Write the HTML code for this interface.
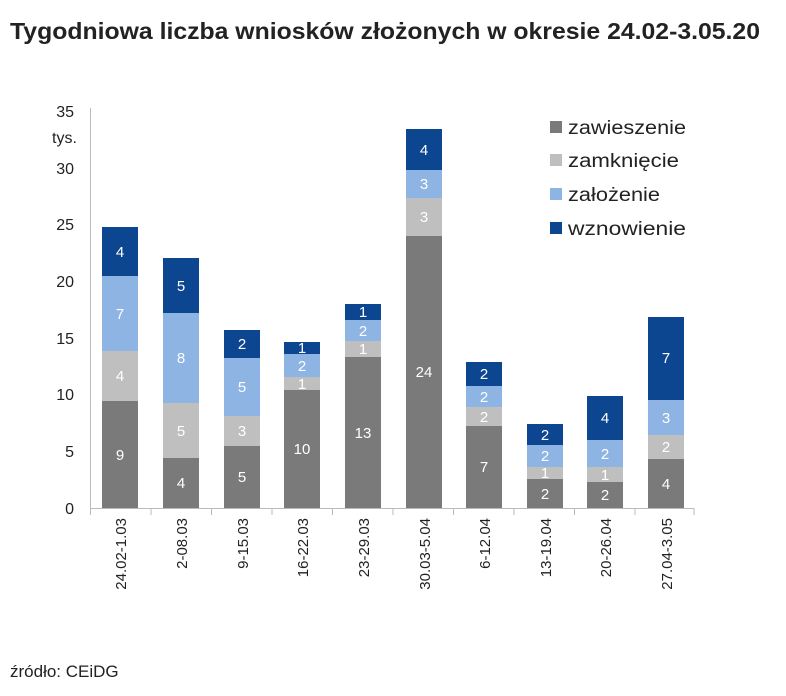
<!DOCTYPE html>
<html><head><meta charset="utf-8"><style>
body{margin:0;background:#fff;}
svg{display:block;font-family:"Liberation Sans",sans-serif;}
</style></head><body>
<svg width="786" height="696" viewBox="0 0 786 696" xmlns="http://www.w3.org/2000/svg">
<text x="10" y="39" font-size="23" font-weight="bold" fill="#222" textLength="750" lengthAdjust="spacingAndGlyphs">Tygodniowa liczba wniosków złożonych w okresie 24.02-3.05.20</text>
<g font-size="16" fill="#222" text-anchor="end">
<text x="74" y="514">0</text><text x="74" y="457">5</text><text x="74" y="400">10</text><text x="74" y="344">15</text><text x="74" y="287">20</text><text x="74" y="230">25</text><text x="74" y="174">30</text><text x="74" y="117">35</text>
</g>
<text x="52" y="143" font-size="16" fill="#222">tys.</text>
<line x1="90.5" y1="108" x2="90.5" y2="508" stroke="#bbb"/>
<line x1="90" y1="508.5" x2="694" y2="508.5" stroke="#bbb"/>
<g stroke="#bbb">
<line x1="90.5" y1="508" x2="90.5" y2="515"/><line x1="151" y1="508" x2="151" y2="515"/><line x1="211.5" y1="508" x2="211.5" y2="515"/><line x1="272" y1="508" x2="272" y2="515"/><line x1="332.5" y1="508" x2="332.5" y2="515"/><line x1="393" y1="508" x2="393" y2="515"/><line x1="453.5" y1="508" x2="453.5" y2="515"/><line x1="514" y1="508" x2="514" y2="515"/><line x1="574.5" y1="508" x2="574.5" y2="515"/><line x1="635" y1="508" x2="635" y2="515"/><line x1="694" y1="508" x2="694" y2="515"/>
</g>
<g>
<rect x="102" y="401" width="36" height="107" fill="#7a7a7a"/><rect x="102" y="351" width="36" height="50" fill="#bfbfbf"/><rect x="102" y="276" width="36" height="75" fill="#8db4e2"/><rect x="102" y="227" width="36" height="49" fill="#0c4590"/>
<rect x="163" y="458" width="36" height="50" fill="#7a7a7a"/><rect x="163" y="403" width="36" height="55" fill="#bfbfbf"/><rect x="163" y="313" width="36" height="90" fill="#8db4e2"/><rect x="163" y="258" width="36" height="55" fill="#0c4590"/>
<rect x="224" y="446" width="36" height="62" fill="#7a7a7a"/><rect x="224" y="416" width="36" height="30" fill="#bfbfbf"/><rect x="224" y="358" width="36" height="58" fill="#8db4e2"/><rect x="224" y="330" width="36" height="28" fill="#0c4590"/>
<rect x="284" y="390" width="36" height="118" fill="#7a7a7a"/><rect x="284" y="377" width="36" height="13" fill="#bfbfbf"/><rect x="284" y="354" width="36" height="23" fill="#8db4e2"/><rect x="284" y="342" width="36" height="12" fill="#0c4590"/>
<rect x="345" y="357" width="36" height="151" fill="#7a7a7a"/><rect x="345" y="341" width="36" height="16" fill="#bfbfbf"/><rect x="345" y="320" width="36" height="21" fill="#8db4e2"/><rect x="345" y="304" width="36" height="16" fill="#0c4590"/>
<rect x="406" y="236" width="36" height="272" fill="#7a7a7a"/><rect x="406" y="198" width="36" height="38" fill="#bfbfbf"/><rect x="406" y="170" width="36" height="28" fill="#8db4e2"/><rect x="406" y="129" width="36" height="41" fill="#0c4590"/>
<rect x="466" y="426" width="36" height="82" fill="#7a7a7a"/><rect x="466" y="407" width="36" height="19" fill="#bfbfbf"/><rect x="466" y="386" width="36" height="21" fill="#8db4e2"/><rect x="466" y="362" width="36" height="24" fill="#0c4590"/>
<rect x="527" y="479" width="36" height="29" fill="#7a7a7a"/><rect x="527" y="467" width="36" height="12" fill="#bfbfbf"/><rect x="527" y="445" width="36" height="22" fill="#8db4e2"/><rect x="527" y="424" width="36" height="21" fill="#0c4590"/>
<rect x="587" y="482" width="36" height="26" fill="#7a7a7a"/><rect x="587" y="467" width="36" height="15" fill="#bfbfbf"/><rect x="587" y="440" width="36" height="27" fill="#8db4e2"/><rect x="587" y="396" width="36" height="44" fill="#0c4590"/>
<rect x="648" y="459" width="36" height="49" fill="#7a7a7a"/><rect x="648" y="435" width="36" height="24" fill="#bfbfbf"/><rect x="648" y="400" width="36" height="35" fill="#8db4e2"/><rect x="648" y="317" width="36" height="83" fill="#0c4590"/>
</g>
<g font-size="15" fill="#fff" text-anchor="middle">
<text x="120" y="460">9</text><text x="120" y="381">4</text><text x="120" y="319">7</text><text x="120" y="257">4</text>
<text x="181" y="488">4</text><text x="181" y="436">5</text><text x="181" y="363">8</text><text x="181" y="291">5</text>
<text x="242" y="482">5</text><text x="242" y="436">3</text><text x="242" y="392">5</text><text x="242" y="349">2</text>
<text x="302" y="454">10</text><text x="302" y="389">1</text><text x="302" y="371">2</text><text x="302" y="353">1</text>
<text x="363" y="438">13</text><text x="363" y="354">1</text><text x="363" y="336">2</text><text x="363" y="317">1</text>
<text x="424" y="377">24</text><text x="424" y="222">3</text><text x="424" y="189">3</text><text x="424" y="155">4</text>
<text x="484" y="472">7</text><text x="484" y="422">2</text><text x="484" y="402">2</text><text x="484" y="379">2</text>
<text x="545" y="499">2</text><text x="545" y="478">1</text><text x="545" y="461">2</text><text x="545" y="440">2</text>
<text x="605" y="500">2</text><text x="605" y="480">1</text><text x="605" y="459">2</text><text x="605" y="423">4</text>
<text x="666" y="489">4</text><text x="666" y="452">2</text><text x="666" y="423">3</text><text x="666" y="363">7</text>
</g>
<g font-size="15" fill="#222" text-anchor="end">
<text transform="translate(126,518) rotate(-90)">24.02-1.03</text>
<text transform="translate(187,518) rotate(-90)">2-08.03</text>
<text transform="translate(248,518) rotate(-90)">9-15.03</text>
<text transform="translate(308,518) rotate(-90)">16-22.03</text>
<text transform="translate(369,518) rotate(-90)">23-29.03</text>
<text transform="translate(430,518) rotate(-90)">30.03-5.04</text>
<text transform="translate(490,518) rotate(-90)">6-12.04</text>
<text transform="translate(551,518) rotate(-90)">13-19.04</text>
<text transform="translate(611,518) rotate(-90)">20-26.04</text>
<text transform="translate(672,518) rotate(-90)">27.04-3.05</text>
</g>
<g font-size="19" fill="#222">
<rect x="550" y="121" width="12" height="12" fill="#7a7a7a"/><text x="568" y="134" textLength="118" lengthAdjust="spacingAndGlyphs">zawieszenie</text>
<rect x="550" y="154" width="12" height="12" fill="#bfbfbf"/><text x="568" y="167" textLength="111" lengthAdjust="spacingAndGlyphs">zamknięcie</text>
<rect x="550" y="188" width="12" height="12" fill="#8db4e2"/><text x="568" y="201" textLength="92" lengthAdjust="spacingAndGlyphs">założenie</text>
<rect x="550" y="222" width="12" height="12" fill="#0c4590"/><text x="568" y="235" textLength="118" lengthAdjust="spacingAndGlyphs">wznowienie</text>
</g>
<text x="10" y="677" font-size="17" fill="#222">źródło: CEiDG</text>
</svg>
</body></html>
